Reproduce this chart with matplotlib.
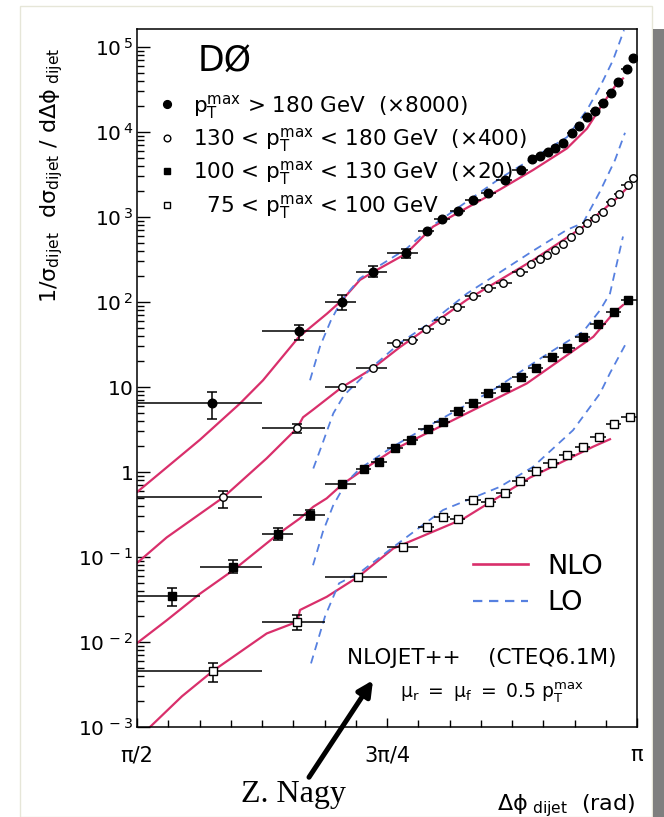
import numpy as np
import matplotlib
matplotlib.use("Agg")
import matplotlib.pyplot as plt
from matplotlib.lines import Line2D
from matplotlib.patches import Rectangle

plt.rcParams['font.family'] = 'DejaVu Sans'
plt.rcParams['mathtext.fontset'] = 'dejavusans'

# --- DATA (x in units of pi, y as plotted incl. scale factors) ---
# pT > 180 GeV (x8000)
s1_x = [0.5747, 0.6623, 0.7047, 0.736, 0.769, 0.7897, 0.8047, 0.8213, 0.8357, 0.8513,
        0.868, 0.8837, 0.8953, 0.903, 0.9107, 0.918, 0.9263, 0.9347, 0.9423, 0.9503,
        0.958, 0.9657, 0.9737, 0.9813, 0.9897, 0.996]
s1_y = [6.4, 45.6, 101, 227, 374, 684, 955, 1180, 1600, 1900,
        2720, 3570, 4780, 5260, 5820, 6430, 7360, 9650, 11770, 14900,
        17800, 22100, 28500, 39100, 54700, 73400]
s1_edges = [64, 80, 88, 92, 96, 100, 102, 104, 106, 108, 110, 112, 114, 115, 116, 117,
            118, 119, 120, 121, 122, 123, 124, 125, 126, 127, 128]
s1_ylo = [4.2, 36, 80, 196, 330]
s1_yhi = [8.8, 54, 121, 262, 420]

# 130 < pT < 180 GeV (x400)
s2_x = [0.5863, 0.6603, 0.7047, 0.7357, 0.7587, 0.7747, 0.789, 0.8047, 0.8203, 0.8363,
        0.8513, 0.8657, 0.883, 0.894, 0.903, 0.9103, 0.918, 0.9263, 0.9337, 0.9423,
        0.9497, 0.958, 0.9663, 0.974, 0.982, 0.9907, 0.996]
s2_y = [0.503, 3.27, 9.9, 16.6, 32.6, 35.7, 47.7, 61.4, 88, 118,
        147, 166, 227, 280, 318, 357, 409, 477, 577, 703,
        842, 964, 1153, 1513, 1847, 2375, 2850]
s2_edges = [64, 80, 88, 92, 96, 98, 100, 102, 104, 106, 108, 110, 112, 114, 115, 116,
            117, 118, 119, 120, 121, 122, 123, 124, 125, 126, 127, 128]
s2_ylo = [0.38, 2.9]
s2_yhi = [0.6, 3.7]

# 100 < pT < 130 GeV (x20)
s3_x = [0.5347, 0.5957, 0.6413, 0.673, 0.7053, 0.7273, 0.7423, 0.758, 0.774, 0.7907,
        0.8057, 0.8213, 0.8363, 0.8513, 0.868, 0.8837, 0.899, 0.9147, 0.9303, 0.9457,
        0.9613, 0.977, 0.9913]
s3_y = [0.0348, 0.0769, 0.187, 0.312, 0.716, 1.08, 1.32, 1.90, 2.38, 3.18,
        3.91, 5.22, 6.53, 8.57, 10.1, 13.2, 16.9, 22.7, 28.5, 39.1,
        55.1, 75.7, 106]
s3_edges = [64, 72, 80, 84, 88, 92, 94, 96, 98, 100, 102, 104, 106, 108, 110, 112,
            114, 116, 118, 120, 122, 124, 126, 128]
s3_ylo = [0.0265, 0.065, 0.16, 0.27]
s3_yhi = [0.043, 0.092, 0.22, 0.36]

# 75 < pT < 100 GeV
s4_x = [0.5763, 0.6603, 0.7213, 0.7663, 0.7897, 0.8057, 0.8213, 0.8363, 0.8523, 0.868,
        0.883, 0.8987, 0.9147, 0.9303, 0.9463, 0.9623, 0.977, 0.993]
s4_y = [0.00459, 0.01734, 0.0586, 0.132, 0.227, 0.298, 0.278, 0.469, 0.44, 0.561,
        0.79, 1.03, 1.29, 1.57, 1.99, 2.60, 3.64, 4.47]
s4_edges = [64, 80, 88, 96, 100, 102, 104, 106, 108, 110, 112, 114, 116, 118, 120,
            122, 124, 126, 128]
s4_ylo = [0.0034, 0.0138]
s4_yhi = [0.0057, 0.0208]

# NLO curves
nlo1_x = [0.5, 0.563, 0.603, 0.626, 0.662, 0.69, 0.705, 0.723, 0.736, 0.769, 0.796,
          0.863, 0.896, 0.93, 0.95, 0.966, 0.98, 0.986]
nlo1_y = [0.58, 2.4, 6.4, 12, 39, 73, 105, 182, 225, 370, 770,
          2110, 3570, 6430, 11000, 21700, 37300, 42700]
nlo2_x = [0.5, 0.5297, 0.586, 0.6297, 0.66, 0.666, 0.676, 0.7047, 0.7357, 0.763,
          0.7897, 0.8297, 0.8963, 0.9463, 0.9797, 0.99]
nlo2_y = [0.085, 0.17, 0.5, 1.45, 3.27, 4.4, 5.4, 9.9, 16.6, 29.5,
          49, 106, 312, 769, 1660, 2190]
nlo3_x = [0.5, 0.5297, 0.563, 0.5963, 0.6413, 0.663, 0.6763, 0.6897, 0.7053, 0.7297,
          0.7563, 0.823, 0.8897, 0.9563, 0.9763, 0.986]
nlo3_y = [0.0097, 0.018, 0.037, 0.070, 0.187, 0.285, 0.39, 0.49, 0.716, 1.135,
          1.82, 4.48, 11, 39, 73.6, 92]
nlo4_x = [0.513, 0.545, 0.5763, 0.6297, 0.6603, 0.663, 0.6897, 0.7213, 0.7563,
          0.826, 0.893, 0.9563, 0.973]
nlo4_y = [0.001, 0.0023, 0.0046, 0.0126, 0.0173, 0.0238, 0.034, 0.0586, 0.126,
          0.28, 0.86, 1.99, 2.43]

# LO curves
lo1_x = [0.673, 0.683, 0.6937, 0.7047, 0.723, 0.736, 0.769, 0.796, 0.863, 0.93,
         0.95, 0.963, 0.976, 0.987]
lo1_y = [12, 30, 60, 105, 190, 240, 420, 800, 2850, 8700,
         18200, 34000, 70000, 158000]
lo2_x = [0.6763, 0.6863, 0.6963, 0.707, 0.719, 0.736, 0.763, 0.796, 0.83, 0.863,
         0.896, 0.93, 0.946, 0.963, 0.978, 0.988]
lo2_y = [1.1, 2.3, 4.9, 8.0, 11, 17.5, 33, 60, 126, 224,
         400, 708, 851, 2000, 4680, 9800]
lo3_x = [0.676, 0.686, 0.696, 0.709, 0.723, 0.7563, 0.79, 0.856, 0.906, 0.9463,
         0.963, 0.973, 0.986]
lo3_y = [0.08, 0.2, 0.4, 0.75, 1.1, 2.0, 3.4, 9.2, 22.7, 45,
         80, 126, 590]
lo4_x = [0.674, 0.688, 0.702, 0.723, 0.763, 0.806, 0.863, 0.896, 0.936, 0.963,
         0.973, 0.988]
lo4_y = [0.0056, 0.02, 0.049, 0.066, 0.15, 0.357, 0.67, 1.15, 3.1, 8.4,
         14.6, 31]

legend_labels = [r'$\mathregular{p_T^{max}}$ > 180 GeV  (×8000)',
                 r'130 < $\mathregular{p_T^{max}}$ < 180 GeV  (×400)',
                 r'100 < $\mathregular{p_T^{max}}$ < 130 GeV  (×20)',
                 r'  75 < $\mathregular{p_T^{max}}$ < 100 GeV']

yticks = [1e-3, 1e-2, 1e-1, 1, 10, 1e2, 1e3, 1e4, 1e5]
ytick_labels = [r'$\mathregular{10^{\,-3}}$', r'$\mathregular{10^{\,-2}}$',
                r'$\mathregular{10^{\,-1}}$', r'$\mathregular{1\quad}$',
                r'$\mathregular{10\quad}$', r'$\mathregular{10^{\,2}}$',
                r'$\mathregular{10^{\,3}}$', r'$\mathregular{10^{\,4}}$',
                r'$\mathregular{10^{\,5}}$']
xticks = [0.5, 0.75, 1.0]
xtick_labels = ['π/2', '3π/4', 'π']

NLO_COLOR = '#d92f6b'
LO_COLOR = '#5680e0'

# --- FIGURE ---
fig = plt.figure(figsize=(6.64, 8.17), dpi=100)
fig.patch.set_facecolor('white')
fig.patches.append(Rectangle((20 / 664, 0), 632 / 664, 811 / 817, transform=fig.transFigure,
                             fill=False, ec='#e6e6d8', lw=1.0, zorder=0))
fig.patches.append(Rectangle((653 / 664, 0), 11 / 664, 788 / 817, transform=fig.transFigure,
                             fc='#7f7f7f', ec='none', zorder=0))

ax = fig.add_axes([137 / 664, 90 / 817, 500 / 664, 698 / 817])
ax.set_yscale('log')
ax.set_xlim(0.5 * np.pi, np.pi)
ax.set_ylim(1e-3, 1.63e5)

for cx, cy in [(nlo1_x, nlo1_y), (nlo2_x, nlo2_y), (nlo3_x, nlo3_y), (nlo4_x, nlo4_y)]:
    ax.plot(np.array(cx) * np.pi, cy, color=NLO_COLOR, lw=1.6, zorder=2)
for cx, cy in [(lo1_x, lo1_y), (lo2_x, lo2_y), (lo3_x, lo3_y), (lo4_x, lo4_y)]:
    ax.plot(np.array(cx) * np.pi, cy, color=LO_COLOR, lw=1.3, dashes=(4.5, 3.2), zorder=2)

series = [
    (s1_x, s1_y, s1_edges, s1_ylo, s1_yhi, 'o', 'black', 6.2),
    (s2_x, s2_y, s2_edges, s2_ylo, s2_yhi, 'o', 'white', 5.4),
    (s3_x, s3_y, s3_edges, s3_ylo, s3_yhi, 's', 'black', 5.6),
    (s4_x, s4_y, s4_edges, s4_ylo, s4_yhi, 's', 'white', 5.6),
]
handles = []
for sx, sy, edges, ylo, yhi, mk, fc, ms in series:
    x = np.array(sx) * np.pi
    y = np.array(sy)
    e = np.array(edges) / 128 * np.pi
    xerr = [x - e[:-1], e[1:] - x]
    n = len(ylo)
    ax.errorbar(x[:n], y[:n], yerr=[y[:n] - np.array(ylo), np.array(yhi) - y[:n]],
                fmt='none', ecolor='black', elinewidth=1.1, capsize=3.5, capthick=1.1, zorder=3)
    ax.errorbar(x, y, xerr=xerr, fmt=mk, ms=ms, mfc=fc, mec='black', mew=1.0,
                ecolor='black', elinewidth=1.1, zorder=4)
    handles.append(Line2D([], [], ls='none', marker=mk, ms=ms - 0.6, mfc=fc, mec='black', mew=1.0))

# --- AXES STYLE ---
ax.set_yticks(yticks)
ax.set_yticklabels(ytick_labels)
ax.set_xticks(np.array(xticks) * np.pi)
ax.set_xticklabels(xtick_labels)
ax.set_xticks(np.arange(0.5, 1.0001, 1 / 32) * np.pi, minor=True)
ax.tick_params(axis='both', which='both', direction='in', width=1.0, colors='black')
ax.tick_params(axis='y', which='major', length=9.5, pad=3, labelsize=14.5)
ax.tick_params(axis='y', which='minor', length=5)
ax.tick_params(axis='x', which='major', length=6.5, pad=13, labelsize=15)
ax.tick_params(axis='x', which='minor', length=5)
for sp in ax.spines.values():
    sp.set_linewidth(1.1)

# --- TEXT ---
ax.text(0.122, 0.954, 'DØ', transform=ax.transAxes, fontsize=25, ha='left', va='center')
leg1 = ax.legend(handles, legend_labels, loc='upper left', bbox_to_anchor=(0.043, 0.909),
                 frameon=False, fontsize=15.5, handlelength=0.8, handletextpad=0.81,
                 labelspacing=0.25, borderpad=0, borderaxespad=0)
ax.add_artist(leg1)
th = [Line2D([], [], color=NLO_COLOR, lw=1.9),
      Line2D([], [], color=LO_COLOR, lw=1.6, dashes=(4.2, 3))]
ax.legend(th, ['NLO', 'LO'], loc='upper left', bbox_to_anchor=(0.672, 0.248),
          frameon=False, fontsize=19.5, handlelength=2.03, handletextpad=0.7,
          labelspacing=0.39, borderpad=0, borderaxespad=0)

ax.text(0.42, 0.099, 'NLOJET++    (CTEQ6.1M)', transform=ax.transAxes, fontsize=15.5,
        ha='left', va='center')
ax.text(0.526, 0.049, r'$\mathregular{\mu_r\ =\ \mu_f\ =\ 0.5\ p_T^{max}}$',
        transform=ax.transAxes, fontsize=13.5, ha='left', va='center')
ax.annotate('', xy=(0.472, 0.067), xytext=(0.344, -0.072), xycoords='axes fraction',
            textcoords='axes fraction', annotation_clip=False,
            arrowprops=dict(arrowstyle='-|>,head_length=0.9,head_width=0.45', lw=3.6,
                            color='black', shrinkA=0, shrinkB=0))
ax.text(0.208, -0.097, 'Z. Nagy', transform=ax.transAxes, fontsize=23,
        family='Liberation Serif', ha='left', va='center')
ax.text(0.996, -0.112, r'$\mathregular{\Delta\phi_{\ dijet}}$  (rad)', transform=ax.transAxes,
        fontsize=16, ha='right', va='center')
ax.text(-0.17, 0.79, r'$\mathregular{1/\sigma_{dijet}\ \ d\sigma_{dijet}\ /\ d\Delta\phi_{\ dijet}}$',
        transform=ax.transAxes, fontsize=16, rotation=90, ha='center', va='center')

fig.savefig('out.png', dpi=100)
